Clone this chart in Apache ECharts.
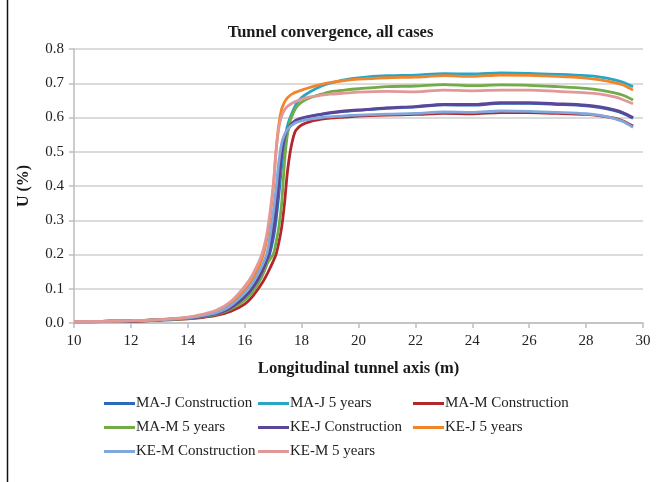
<!DOCTYPE html>
<html>
<head>
<meta charset="utf-8">
<script src="https://cdn.jsdelivr.net/npm/echarts@6/dist/echarts.min.js"></script>
<style>html,body{margin:0;padding:0;background:#fff;}#c{width:661px;height:482px;}</style>
</head>
<body>
<div id="c"></div>
<script>
// Longitudinal position (m)
const xs = [10, 11, 12, 13, 14, 14.5, 15, 15.5, 16, 16.3, 16.6, 16.8, 17.0, 17.1, 17.2, 17.3, 17.4, 17.5, 17.6, 17.7, 17.8, 18.0, 18.3, 18.7, 19, 19.5, 20, 21, 22, 23, 24, 25, 26, 27, 28, 28.5, 29, 29.3, 29.65];

const seriesNames = ["MA-J Construction", "MA-J 5 years", "MA-M Construction", "MA-M 5 years", "KE-J Construction", "KE-J 5 years", "KE-M Construction", "KE-M 5 years"];
const seriesColors = ["#2b6cb8", "#27a6c6", "#b2262c", "#72ab47", "#5d4699", "#f0852c", "#82a7db", "#e39898"];

const maJConstruction = [0.004, 0.005, 0.006, 0.009, 0.014, 0.019, 0.026, 0.042, 0.070, 0.097, 0.138, 0.178, 0.245, 0.300, 0.375, 0.460, 0.525, 0.560, 0.575, 0.584, 0.590, 0.597, 0.603, 0.609, 0.613, 0.618, 0.621, 0.627, 0.631, 0.637, 0.636, 0.641, 0.641, 0.638, 0.634, 0.629, 0.620, 0.612, 0.598];
const maJ5years = [0.004, 0.005, 0.006, 0.009, 0.014, 0.020, 0.028, 0.045, 0.075, 0.105, 0.150, 0.200, 0.280, 0.335, 0.400, 0.470, 0.530, 0.575, 0.600, 0.620, 0.638, 0.658, 0.675, 0.692, 0.700, 0.710, 0.716, 0.722, 0.724, 0.728, 0.727, 0.730, 0.729, 0.726, 0.722, 0.718, 0.710, 0.703, 0.690];
const maMConstruction = [0.003, 0.004, 0.005, 0.008, 0.012, 0.016, 0.022, 0.034, 0.055, 0.080, 0.115, 0.145, 0.180, 0.200, 0.235, 0.280, 0.350, 0.440, 0.500, 0.540, 0.563, 0.578, 0.588, 0.595, 0.598, 0.601, 0.604, 0.607, 0.609, 0.612, 0.611, 0.614, 0.614, 0.612, 0.609, 0.605, 0.598, 0.590, 0.575];
const maM5years = [0.004, 0.005, 0.006, 0.009, 0.013, 0.018, 0.025, 0.040, 0.066, 0.093, 0.135, 0.175, 0.200, 0.235, 0.280, 0.350, 0.470, 0.550, 0.590, 0.612, 0.628, 0.645, 0.658, 0.668, 0.675, 0.680, 0.684, 0.690, 0.692, 0.696, 0.693, 0.695, 0.694, 0.690, 0.685, 0.680, 0.672, 0.665, 0.651];
const keJConstruction = [0.004, 0.005, 0.006, 0.009, 0.014, 0.019, 0.027, 0.044, 0.076, 0.105, 0.148, 0.190, 0.270, 0.330, 0.410, 0.490, 0.540, 0.565, 0.578, 0.586, 0.592, 0.598, 0.604, 0.610, 0.614, 0.619, 0.622, 0.628, 0.632, 0.638, 0.638, 0.643, 0.643, 0.640, 0.636, 0.631, 0.622, 0.614, 0.600];
const keJ5years = [0.004, 0.005, 0.007, 0.010, 0.016, 0.023, 0.033, 0.055, 0.095, 0.130, 0.185, 0.255, 0.390, 0.500, 0.580, 0.625, 0.645, 0.657, 0.665, 0.670, 0.674, 0.680, 0.688, 0.697, 0.702, 0.708, 0.712, 0.716, 0.718, 0.722, 0.720, 0.724, 0.723, 0.720, 0.715, 0.710, 0.702, 0.695, 0.680];
const keMConstruction = [0.004, 0.005, 0.006, 0.009, 0.015, 0.021, 0.030, 0.050, 0.088, 0.120, 0.165, 0.210, 0.320, 0.390, 0.470, 0.525, 0.550, 0.565, 0.574, 0.580, 0.585, 0.590, 0.595, 0.600, 0.602, 0.605, 0.607, 0.610, 0.612, 0.616, 0.615, 0.619, 0.618, 0.615, 0.611, 0.606, 0.597, 0.588, 0.571];
const keM5years = [0.004, 0.005, 0.007, 0.010, 0.017, 0.025, 0.037, 0.062, 0.107, 0.145, 0.200, 0.270, 0.400, 0.500, 0.570, 0.605, 0.622, 0.632, 0.638, 0.643, 0.647, 0.653, 0.660, 0.665, 0.668, 0.671, 0.674, 0.676, 0.675, 0.680, 0.678, 0.680, 0.680, 0.676, 0.672, 0.668, 0.660, 0.652, 0.640];

const seriesValues = [maJConstruction, maJ5years, maMConstruction, maM5years, keJConstruction, keJ5years, keMConstruction, keM5years];

const FONT = "'Liberation Serif', 'DejaVu Serif', serif";

const chart = echarts.init(document.getElementById('c'), null, {renderer: 'canvas'});

const series = seriesNames.map((name, i) => ({
  name: name,
  type: 'line',
  smooth: 0.3,
  showSymbol: false,
  symbol: 'none',
  lineStyle: {width: 2.8, color: seriesColors[i]},
  itemStyle: {color: seriesColors[i]},
  data: xs.map((x, j) => [x, seriesValues[i][j]])
}));

// legend layout: 3 columns x 3 rows
const colX = [104, 258, 413];
const rowY = [396, 420, 444];
const legends = seriesNames.map((name, i) => ({
  data: [name],
  left: colX[i % 3],
  top: rowY[Math.floor(i / 3)],
  icon: 'rect',
  itemWidth: 31,
  itemHeight: 3,
  itemGap: 0,
  padding: 0,
  selectedMode: false,
  textStyle: {fontFamily: FONT, fontSize: 15, color: '#222', padding: [0, 0, 0, -4]}
}));

chart.setOption({
  backgroundColor: '#fff',
  animation: false,
  title: {
    text: 'Tunnel convergence, all cases',
    left: 'center',
    top: 19,
    textStyle: {fontFamily: FONT, fontWeight: 'bold', fontSize: 16.5, color: '#1a1a1a'}
  },
  legend: legends,
  grid: {left: 74, right: 18, top: 49, bottom: 159, containLabel: false},
  xAxis: {
    type: 'value',
    min: 10, max: 30, interval: 2,
    name: 'Longitudinal tunnel axis (m)',
    nameLocation: 'middle',
    nameGap: 37,
    nameTextStyle: {fontFamily: FONT, fontWeight: 'bold', fontSize: 16.5, color: '#1a1a1a'},
    axisLine: {lineStyle: {color: '#bdbdbd', width: 1.5}},
    axisTick: {show: true, length: 5, lineStyle: {color: '#bdbdbd', width: 1.5}},
    axisLabel: {fontFamily: FONT, fontSize: 15, color: '#222', margin: 11},
    splitLine: {show: false}
  },
  yAxis: {
    type: 'value',
    min: 0, max: 0.8, interval: 0.1,
    name: 'U (%)',
    nameLocation: 'middle',
    nameGap: 42,
    nameRotate: 90,
    nameTextStyle: {fontFamily: FONT, fontWeight: 'bold', fontSize: 16, color: '#1a1a1a'},
    axisLine: {show: true, lineStyle: {color: '#bdbdbd', width: 1.5}},
    axisTick: {show: true, length: 5, lineStyle: {color: '#bdbdbd', width: 1.5}},
    axisLabel: {fontFamily: FONT, fontSize: 15, color: '#222', margin: 10, formatter: v => v.toFixed(1)},
    splitLine: {show: true, lineStyle: {color: '#cfcfcf', width: 1.5}}
  },
  graphic: [{
    type: 'line',
    shape: {x1: 7.5, y1: 0, x2: 7.5, y2: 482},
    style: {stroke: '#111', lineWidth: 1.5},
    silent: true
  }],
  series: series
});
</script>
</body>
</html>
